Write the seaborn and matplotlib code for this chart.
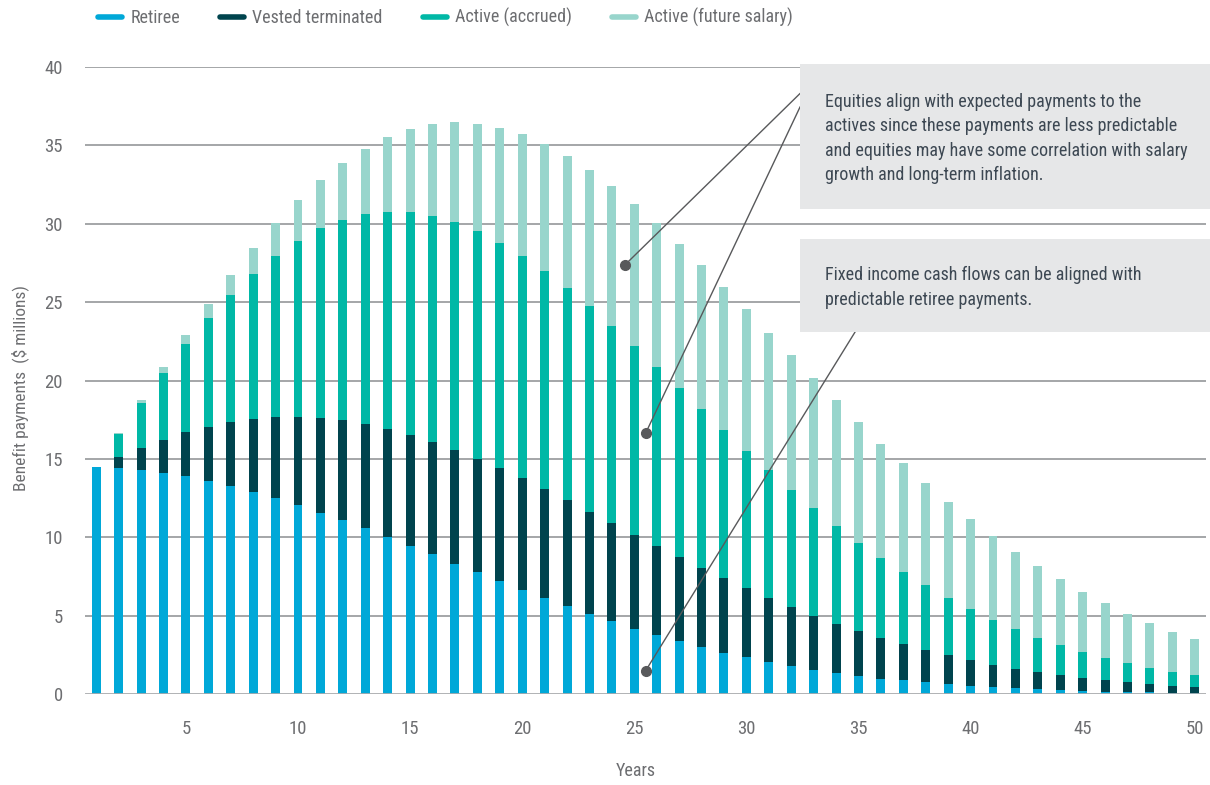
import numpy as np
import pandas as pd
import matplotlib
matplotlib.use("Agg")
import matplotlib.pyplot as plt
from matplotlib import font_manager
from matplotlib.lines import Line2D
from matplotlib.patches import Rectangle
import seaborn as sns

# ---- data: projected benefit payments by year ($ millions) ----
years = list(range(1, 51))
retiree = [14.46, 14.40, 14.29, 14.12, 13.89, 13.59, 13.27, 12.91, 12.48, 12.04,
           11.55, 11.07, 10.59, 10.00, 9.46, 8.90, 8.32, 7.78, 7.20, 6.66,
           6.12, 5.61, 5.10, 4.63, 4.17, 3.74, 3.36, 3.00, 2.64, 2.34,
           2.06, 1.79, 1.55, 1.36, 1.17, 0.98, 0.87, 0.77, 0.64, 0.53,
           0.45, 0.36, 0.30, 0.23, 0.19, 0.15, 0.13, 0.11, 0.09, 0.06]
vested_terminated = [0.00, 0.70, 1.42, 2.10, 2.80, 3.46, 4.06, 4.63, 5.17, 5.63,
                     6.04, 6.39, 6.65, 6.93, 7.08, 7.20, 7.27, 7.22, 7.21, 7.10,
                     6.95, 6.76, 6.53, 6.27, 6.00, 5.69, 5.36, 5.04, 4.74, 4.40,
                     4.05, 3.74, 3.43, 3.11, 2.83, 2.57, 2.29, 2.04, 1.83, 1.64,
                     1.42, 1.24, 1.10, 0.98, 0.83, 0.74, 0.61, 0.51, 0.42, 0.37]
active_accrued = [0.00, 1.47, 2.88, 4.28, 5.62, 6.92, 8.12, 9.28, 10.31, 11.25,
                  12.12, 12.81, 13.39, 13.85, 14.22, 14.41, 14.51, 14.54, 14.39, 14.19,
                  13.91, 13.51, 13.10, 12.58, 12.00, 11.44, 10.79, 10.15, 9.47, 8.79,
                  8.15, 7.51, 6.87, 6.27, 5.66, 5.13, 4.60, 4.13, 3.66, 3.23,
                  2.87, 2.55, 2.20, 1.92, 1.66, 1.41, 1.24, 1.04, 0.89, 0.76]
active_future_salary = [0.00, 0.05, 0.17, 0.36, 0.59, 0.89, 1.26, 1.61, 2.07, 2.57,
                        3.06, 3.60, 4.15, 4.73, 5.29, 5.83, 6.36, 6.83, 7.32, 7.76,
                        8.12, 8.46, 8.71, 8.92, 9.11, 9.19, 9.23, 9.19, 9.13, 9.00,
                        8.80, 8.58, 8.34, 8.03, 7.70, 7.30, 6.96, 6.53, 6.15, 5.75,
                        5.37, 4.94, 4.57, 4.19, 3.85, 3.49, 3.13, 2.85, 2.58, 2.30]

series_names = ["Retiree", "Vested terminated", "Active (accrued)", "Active (future salary)"]
series_colors = ["#00A8D8", "#00444E", "#00B8A6", "#98D5CC"]
y_ticks = [0, 5, 10, 15, 20, 25, 30, 35, 40]
x_ticks = [5, 10, 15, 20, 25, 30, 35, 40, 45, 50]

equity_note = ("Equities align with expected payments to the\n"
               "actives since these payments are less predictable\n"
               "and equities may have some correlation with salary\n"
               "growth and long-term inflation.")
fixed_note = ("Fixed income cash flows can be aligned with\n"
              "predictable retiree payments.")

# ---- style ----
sns.set_theme(style="white")
available = {f.name for f in font_manager.fontManager.ttflist}
family = [f for f in ["Liberation Sans Narrow", "Roboto Condensed", "DejaVu Sans Condensed",
                      "Liberation Sans", "DejaVu Sans"] if f in available] or ["DejaVu Sans"]
plt.rcParams["font.family"] = family + ["DejaVu Sans"]

tick_color = "#6D6E71"
note_color = "#3D4853"
line_color = "#58595B"

fig = plt.figure(figsize=(12.10, 7.85), dpi=100)
ax = fig.add_axes([85 / 1210, 1 - 694 / 785, (1206 - 85) / 1210, (694 - 67) / 785])

# stacked bars: draw cumulative totals from the top layer down
df = pd.DataFrame({
    "year": years,
    series_names[0]: retiree,
    series_names[1]: vested_terminated,
    series_names[2]: active_accrued,
    series_names[3]: active_future_salary,
})
cum = df[series_names].cumsum(axis=1)
for name, color in reversed(list(zip(series_names, series_colors))):
    layer = pd.DataFrame({"year": df["year"], "value": cum[name]})
    sns.barplot(data=layer, x="year", y="value", native_scale=True, color=color,
                width=0.4, errorbar=None, saturation=1, linewidth=0, ax=ax, zorder=2)

ax.set_xlim(0.5, 50.5)
ax.set_ylim(0, 40)
ax.set_xlabel("")
ax.set_ylabel("")
ax.set_yticks(y_ticks)
ax.set_xticks(x_ticks)
ax.set_xticklabels([str(t) for t in x_ticks])
ax.set_yticklabels([str(t) for t in y_ticks])
for y in y_ticks[1:]:
    ax.axhline(y, color="#8C8E91", lw=1.1, zorder=1)
ax.axhline(0, color="#A9ABAE", lw=2.0, zorder=3)
for s in ax.spines.values():
    s.set_visible(False)
ax.tick_params(axis="both", length=0, labelsize=13.5, colors=tick_color)
ax.tick_params(axis="y", pad=16)
ax.tick_params(axis="x", pad=19)

# callouts
dots = [(24.58, 27.37), (25.51, 16.65), (25.50, 1.47)]
ends = [(32.40, 38.32), (32.40, 37.47), (34.85, 23.10)]
for (x0, y0), (x1, y1) in zip(dots, ends):
    ax.plot([x0, x1], [y0, y1], color=line_color, lw=1.0, clip_on=False, zorder=5)
    ax.plot([x0], [y0], "o", color=line_color, ms=7, clip_on=False, zorder=6)

box_face = "#E6E7E8"
fig.add_artist(Rectangle((800 / 1210, 1 - 209 / 785), 410 / 1210, 145 / 785,
                         transform=fig.transFigure, facecolor=box_face, edgecolor="none", zorder=3))
fig.add_artist(Rectangle((800 / 1210, 1 - 331.5 / 785), 410 / 1210, 92.5 / 785,
                         transform=fig.transFigure, facecolor=box_face, edgecolor="none", zorder=3))
fig.text(825 / 1210, 1 - 138.7 / 785, equity_note, ha="left", va="center",
         fontsize=13, color=note_color, linespacing=1.45, zorder=4)
fig.text(825 / 1210, 1 - 287.5 / 785, fixed_note, ha="left", va="center",
         fontsize=13, color=note_color, linespacing=1.45, zorder=4)

# axis titles
fig.text(20 / 1210, 1 - 388 / 785, "Benefit payments  ($ millions)", rotation=90,
         ha="center", va="center", fontsize=12.5, color=tick_color)
fig.text(636 / 1210, 1 - 771 / 785, "Years", ha="center", va="center",
         fontsize=13, color=tick_color)

# legend
handles = [Line2D([0], [0], color=c, lw=4) for c in series_colors]
fig.legend(handles, series_names, loc="upper left", bbox_to_anchor=(98 / 1210, 1 - 8 / 785),
           ncol=4, frameon=False, fontsize=13, handlelength=1.35, handletextpad=0.45,
           columnspacing=2.2, borderpad=0, borderaxespad=0, labelcolor=tick_color)

fig.savefig("out.png", dpi=100)
